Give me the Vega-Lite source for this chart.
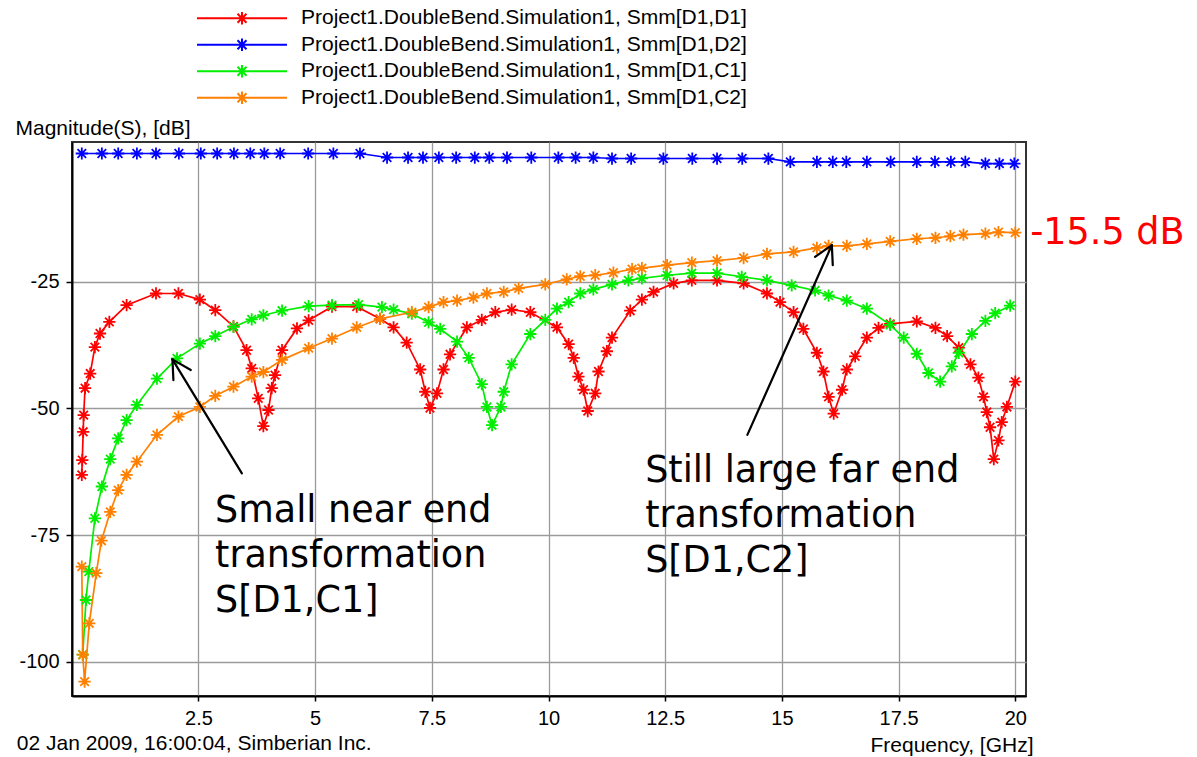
{
  "$schema": "https://vega.github.io/schema/vega-lite/v6.json",
  "width": 954,
  "height": 554,
  "autosize": {"type": "none"},
  "padding": {"left": 72, "top": 142, "right": 171, "bottom": 61},
  "background": "white",
  "config": {
    "view": {"stroke": "#333333", "strokeWidth": 2},
    "axis": {
      "labelFont": "Liberation Sans",
      "labelFontSize": 20,
      "labelColor": "black",
      "titleFont": "Liberation Sans",
      "titleFontSize": 21,
      "titleFontWeight": "normal",
      "titleColor": "black",
      "domainColor": "black",
      "domainWidth": 2,
      "tickColor": "black",
      "tickWidth": 1.5,
      "tickSize": 6,
      "labelPadding": 7,
      "grid": true,
      "gridColor": "#9a9a9a",
      "gridWidth": 1.3
    }
  },
  "datasets": {
    "curves": [
      {"s":"D1,D1","f":0.0,"db":-63.1},{"s":"D1,D1","f":0.01,"db":-60.2},{"s":"D1,D1","f":0.03,"db":-54.6},{"s":"D1,D1","f":0.04,"db":-51.3},{"s":"D1,D1","f":0.07,"db":-46.0},{"s":"D1,D1","f":0.18,"db":-43.1},{"s":"D1,D1","f":0.28,"db":-37.9},{"s":"D1,D1","f":0.39,"db":-35.2},{"s":"D1,D1","f":0.59,"db":-32.9},{"s":"D1,D1","f":0.96,"db":-29.6},{"s":"D1,D1","f":1.59,"db":-27.3},{"s":"D1,D1","f":2.07,"db":-27.3},{"s":"D1,D1","f":2.53,"db":-28.5},{"s":"D1,D1","f":2.86,"db":-30.6},{"s":"D1,D1","f":3.25,"db":-33.8},{"s":"D1,D1","f":3.53,"db":-38.5},{"s":"D1,D1","f":3.64,"db":-42.1},{"s":"D1,D1","f":3.78,"db":-48.0},{"s":"D1,D1","f":3.89,"db":-53.5},{"s":"D1,D1","f":4.0,"db":-50.3},{"s":"D1,D1","f":4.07,"db":-46.0},{"s":"D1,D1","f":4.14,"db":-43.4},{"s":"D1,D1","f":4.29,"db":-38.5},{"s":"D1,D1","f":4.61,"db":-34.2},{"s":"D1,D1","f":4.86,"db":-32.6},{"s":"D1,D1","f":5.36,"db":-29.9},{"s":"D1,D1","f":5.89,"db":-29.9},{"s":"D1,D1","f":6.39,"db":-32.3},{"s":"D1,D1","f":6.68,"db":-34.0},{"s":"D1,D1","f":6.96,"db":-37.0},{"s":"D1,D1","f":7.25,"db":-42.3},{"s":"D1,D1","f":7.36,"db":-46.7},{"s":"D1,D1","f":7.46,"db":-49.9},{"s":"D1,D1","f":7.61,"db":-47.0},{"s":"D1,D1","f":7.75,"db":-42.3},{"s":"D1,D1","f":7.89,"db":-39.3},{"s":"D1,D1","f":8.25,"db":-34.0},{"s":"D1,D1","f":8.57,"db":-32.5},{"s":"D1,D1","f":8.86,"db":-31.0},{"s":"D1,D1","f":9.21,"db":-30.5},{"s":"D1,D1","f":9.61,"db":-31.0},{"s":"D1,D1","f":10.18,"db":-34.0},{"s":"D1,D1","f":10.43,"db":-37.3},{"s":"D1,D1","f":10.54,"db":-40.0},{"s":"D1,D1","f":10.64,"db":-43.7},{"s":"D1,D1","f":10.75,"db":-46.3},{"s":"D1,D1","f":10.84,"db":-50.5},{"s":"D1,D1","f":11.0,"db":-47.0},{"s":"D1,D1","f":11.07,"db":-42.7},{"s":"D1,D1","f":11.25,"db":-38.7},{"s":"D1,D1","f":11.36,"db":-36.0},{"s":"D1,D1","f":11.75,"db":-30.7},{"s":"D1,D1","f":12.0,"db":-28.5},{"s":"D1,D1","f":12.25,"db":-27.0},{"s":"D1,D1","f":12.68,"db":-25.3},{"s":"D1,D1","f":13.07,"db":-24.7},{"s":"D1,D1","f":13.61,"db":-24.7},{"s":"D1,D1","f":14.18,"db":-25.3},{"s":"D1,D1","f":14.68,"db":-27.3},{"s":"D1,D1","f":14.96,"db":-29.0},{"s":"D1,D1","f":15.25,"db":-31.0},{"s":"D1,D1","f":15.46,"db":-34.3},{"s":"D1,D1","f":15.75,"db":-39.0},{"s":"D1,D1","f":15.89,"db":-42.7},{"s":"D1,D1","f":16.0,"db":-47.7},{"s":"D1,D1","f":16.11,"db":-51.0},{"s":"D1,D1","f":16.29,"db":-46.3},{"s":"D1,D1","f":16.39,"db":-42.3},{"s":"D1,D1","f":16.57,"db":-39.7},{"s":"D1,D1","f":16.82,"db":-36.0},{"s":"D1,D1","f":17.07,"db":-34.1},{"s":"D1,D1","f":17.32,"db":-33.3},{"s":"D1,D1","f":17.89,"db":-32.8},{"s":"D1,D1","f":18.29,"db":-34.1},{"s":"D1,D1","f":18.54,"db":-35.7},{"s":"D1,D1","f":18.79,"db":-38.0},{"s":"D1,D1","f":19.04,"db":-41.3},{"s":"D1,D1","f":19.21,"db":-43.9},{"s":"D1,D1","f":19.32,"db":-47.7},{"s":"D1,D1","f":19.39,"db":-50.7},{"s":"D1,D1","f":19.46,"db":-53.7},{"s":"D1,D1","f":19.54,"db":-60.0},{"s":"D1,D1","f":19.64,"db":-56.3},{"s":"D1,D1","f":19.71,"db":-52.7},{"s":"D1,D1","f":19.82,"db":-49.7},{"s":"D1,D1","f":20.0,"db":-44.7},

      {"s":"D1,D2","f":0.0,"db":0.33},{"s":"D1,D2","f":0.43,"db":0.33},{"s":"D1,D2","f":0.78,"db":0.33},{"s":"D1,D2","f":1.18,"db":0.33},{"s":"D1,D2","f":1.59,"db":0.33},{"s":"D1,D2","f":2.08,"db":0.33},{"s":"D1,D2","f":2.55,"db":0.33},{"s":"D1,D2","f":2.9,"db":0.33},{"s":"D1,D2","f":3.26,"db":0.33},{"s":"D1,D2","f":3.61,"db":0.33},{"s":"D1,D2","f":3.91,"db":0.33},{"s":"D1,D2","f":4.25,"db":0.33},{"s":"D1,D2","f":4.85,"db":0.33},{"s":"D1,D2","f":5.39,"db":0.33},{"s":"D1,D2","f":5.96,"db":0.33},{"s":"D1,D2","f":6.54,"db":-0.46},{"s":"D1,D2","f":6.99,"db":-0.46},{"s":"D1,D2","f":7.31,"db":-0.46},{"s":"D1,D2","f":7.65,"db":-0.46},{"s":"D1,D2","f":8.02,"db":-0.46},{"s":"D1,D2","f":8.42,"db":-0.46},{"s":"D1,D2","f":8.73,"db":-0.46},{"s":"D1,D2","f":9.11,"db":-0.46},{"s":"D1,D2","f":9.63,"db":-0.46},{"s":"D1,D2","f":10.21,"db":-0.46},{"s":"D1,D2","f":10.58,"db":-0.46},{"s":"D1,D2","f":10.96,"db":-0.46},{"s":"D1,D2","f":11.36,"db":-0.66},{"s":"D1,D2","f":11.77,"db":-0.66},{"s":"D1,D2","f":12.46,"db":-0.66},{"s":"D1,D2","f":13.08,"db":-0.66},{"s":"D1,D2","f":13.61,"db":-0.66},{"s":"D1,D2","f":14.15,"db":-0.66},{"s":"D1,D2","f":14.71,"db":-0.66},{"s":"D1,D2","f":15.18,"db":-1.33},{"s":"D1,D2","f":15.75,"db":-1.33},{"s":"D1,D2","f":16.09,"db":-1.33},{"s":"D1,D2","f":16.38,"db":-1.33},{"s":"D1,D2","f":16.82,"db":-1.33},{"s":"D1,D2","f":17.33,"db":-1.33},{"s":"D1,D2","f":17.89,"db":-1.33},{"s":"D1,D2","f":18.28,"db":-1.33},{"s":"D1,D2","f":18.62,"db":-1.33},{"s":"D1,D2","f":18.93,"db":-1.33},{"s":"D1,D2","f":19.36,"db":-1.65},{"s":"D1,D2","f":19.66,"db":-1.65},{"s":"D1,D2","f":19.98,"db":-1.65},

      {"s":"D1,C1","f":0.02,"db":-98.6},{"s":"D1,C1","f":0.09,"db":-87.8},{"s":"D1,C1","f":0.15,"db":-82.2},{"s":"D1,C1","f":0.28,"db":-71.7},{"s":"D1,C1","f":0.43,"db":-65.4},{"s":"D1,C1","f":0.61,"db":-60.0},{"s":"D1,C1","f":0.78,"db":-55.9},{"s":"D1,C1","f":0.96,"db":-52.3},{"s":"D1,C1","f":1.18,"db":-49.3},{"s":"D1,C1","f":1.61,"db":-44.1},{"s":"D1,C1","f":2.04,"db":-40.1},{"s":"D1,C1","f":2.53,"db":-37.2},{"s":"D1,C1","f":2.86,"db":-35.7},{"s":"D1,C1","f":3.25,"db":-33.9},{"s":"D1,C1","f":3.64,"db":-32.4},{"s":"D1,C1","f":3.89,"db":-31.6},{"s":"D1,C1","f":4.29,"db":-30.7},{"s":"D1,C1","f":4.86,"db":-29.8},{"s":"D1,C1","f":5.36,"db":-29.6},{"s":"D1,C1","f":5.93,"db":-29.5},{"s":"D1,C1","f":6.43,"db":-30.0},{"s":"D1,C1","f":6.68,"db":-30.5},{"s":"D1,C1","f":7.07,"db":-31.3},{"s":"D1,C1","f":7.43,"db":-33.0},{"s":"D1,C1","f":7.68,"db":-34.3},{"s":"D1,C1","f":8.04,"db":-36.8},{"s":"D1,C1","f":8.29,"db":-40.0},{"s":"D1,C1","f":8.57,"db":-45.2},{"s":"D1,C1","f":8.68,"db":-49.7},{"s":"D1,C1","f":8.79,"db":-53.3},{"s":"D1,C1","f":8.98,"db":-49.7},{"s":"D1,C1","f":9.04,"db":-46.7},{"s":"D1,C1","f":9.21,"db":-41.3},{"s":"D1,C1","f":9.61,"db":-35.3},{"s":"D1,C1","f":9.93,"db":-32.5},{"s":"D1,C1","f":10.18,"db":-30.3},{"s":"D1,C1","f":10.43,"db":-29.0},{"s":"D1,C1","f":10.68,"db":-27.3},{"s":"D1,C1","f":10.96,"db":-26.5},{"s":"D1,C1","f":11.36,"db":-25.5},{"s":"D1,C1","f":11.71,"db":-24.7},{"s":"D1,C1","f":12.0,"db":-24.3},{"s":"D1,C1","f":12.54,"db":-23.7},{"s":"D1,C1","f":13.07,"db":-23.3},{"s":"D1,C1","f":13.61,"db":-23.3},{"s":"D1,C1","f":14.14,"db":-24.0},{"s":"D1,C1","f":14.68,"db":-24.7},{"s":"D1,C1","f":15.21,"db":-25.7},{"s":"D1,C1","f":15.71,"db":-26.7},{"s":"D1,C1","f":16.0,"db":-27.7},{"s":"D1,C1","f":16.39,"db":-28.7},{"s":"D1,C1","f":16.82,"db":-30.3},{"s":"D1,C1","f":17.32,"db":-33.5},{"s":"D1,C1","f":17.61,"db":-36.0},{"s":"D1,C1","f":17.89,"db":-39.2},{"s":"D1,C1","f":18.14,"db":-43.0},{"s":"D1,C1","f":18.39,"db":-44.7},{"s":"D1,C1","f":18.64,"db":-41.7},{"s":"D1,C1","f":18.79,"db":-39.0},{"s":"D1,C1","f":19.07,"db":-35.3},{"s":"D1,C1","f":19.36,"db":-32.7},{"s":"D1,C1","f":19.57,"db":-31.2},{"s":"D1,C1","f":19.89,"db":-29.7},

      {"s":"D1,C2","f":0.0,"db":-81.2},{"s":"D1,C2","f":0.02,"db":-98.6},{"s":"D1,C2","f":0.06,"db":-103.9},{"s":"D1,C2","f":0.16,"db":-92.4},{"s":"D1,C2","f":0.31,"db":-82.5},{"s":"D1,C2","f":0.42,"db":-76.1},{"s":"D1,C2","f":0.61,"db":-70.4},{"s":"D1,C2","f":0.78,"db":-66.1},{"s":"D1,C2","f":0.96,"db":-63.1},{"s":"D1,C2","f":1.18,"db":-60.5},{"s":"D1,C2","f":1.61,"db":-55.2},{"s":"D1,C2","f":2.07,"db":-51.6},{"s":"D1,C2","f":2.53,"db":-49.7},{"s":"D1,C2","f":2.86,"db":-47.5},{"s":"D1,C2","f":3.25,"db":-45.7},{"s":"D1,C2","f":3.64,"db":-43.7},{"s":"D1,C2","f":3.89,"db":-42.8},{"s":"D1,C2","f":4.29,"db":-40.4},{"s":"D1,C2","f":4.86,"db":-38.1},{"s":"D1,C2","f":5.36,"db":-36.2},{"s":"D1,C2","f":5.89,"db":-34.0},{"s":"D1,C2","f":6.39,"db":-32.3},{"s":"D1,C2","f":7.07,"db":-31.0},{"s":"D1,C2","f":7.43,"db":-30.0},{"s":"D1,C2","f":7.75,"db":-29.0},{"s":"D1,C2","f":8.04,"db":-28.7},{"s":"D1,C2","f":8.39,"db":-28.1},{"s":"D1,C2","f":8.68,"db":-27.3},{"s":"D1,C2","f":9.04,"db":-27.0},{"s":"D1,C2","f":9.36,"db":-26.3},{"s":"D1,C2","f":9.93,"db":-25.5},{"s":"D1,C2","f":10.39,"db":-24.5},{"s":"D1,C2","f":10.68,"db":-23.9},{"s":"D1,C2","f":11.0,"db":-23.7},{"s":"D1,C2","f":11.39,"db":-23.2},{"s":"D1,C2","f":11.79,"db":-22.5},{"s":"D1,C2","f":12.0,"db":-22.3},{"s":"D1,C2","f":12.54,"db":-21.7},{"s":"D1,C2","f":13.07,"db":-21.2},{"s":"D1,C2","f":13.61,"db":-20.8},{"s":"D1,C2","f":14.18,"db":-20.3},{"s":"D1,C2","f":14.68,"db":-19.5},{"s":"D1,C2","f":15.25,"db":-19.1},{"s":"D1,C2","f":15.75,"db":-18.3},{"s":"D1,C2","f":16.0,"db":-17.9},{"s":"D1,C2","f":16.39,"db":-17.9},{"s":"D1,C2","f":16.82,"db":-17.5},{"s":"D1,C2","f":17.32,"db":-17.0},{"s":"D1,C2","f":17.89,"db":-16.5},{"s":"D1,C2","f":18.29,"db":-16.3},{"s":"D1,C2","f":18.61,"db":-16.0},{"s":"D1,C2","f":18.89,"db":-15.7},{"s":"D1,C2","f":19.36,"db":-15.5},{"s":"D1,C2","f":19.64,"db":-15.2},{"s":"D1,C2","f":20.0,"db":-15.3}
    ]
  },
  "layer": [
    {
      "data": {"name": "curves"},
      "mark": {"type": "line", "strokeWidth": 1.7},
      "encoding": {
        "x": {
          "field": "f", "type": "quantitative",
          "scale": {"domain": [-0.21, 20.23], "nice": false, "zero": false},
          "axis": {
            "values": [2.5, 5, 7.5, 10, 12.5, 15, 17.5, 20],
            "labelExpr": "'' + datum.value",
            "title": "Frequency, [GHz]",
            "titleAlign": "right",
            "titleAnchor": null,
            "titleX": 961,
            "titleY": 55,
            "titleBaseline": "alphabetic",
            "tickSize": 5
          }
        },
        "y": {
          "field": "db", "type": "quantitative",
          "scale": {"domain": [-106.75, 2.6], "nice": false, "zero": false},
          "axis": {
            "values": [-25, -50, -75, -100],
            "labelExpr": "'' + datum.value",
            "title": "Magnitude(S), [dB]",
            "titleAngle": 0,
            "titleAlign": "left",
            "titleAnchor": null,
            "titleX": -57,
            "titleY": -7.5,
            "titleBaseline": "alphabetic"
          }
        },
        "color": {
          "field": "s", "type": "nominal",
          "scale": {"domain": ["D1,D1", "D1,D2", "D1,C1", "D1,C2"], "range": ["#ff0000", "#0000ff", "#00ee00", "#ff8000"]},
          "legend": {
            "orient": "none",
            "legendX": 124,
            "legendY": -136.7,
            "title": null,
            "padding": 0,
            "symbolType": "M-1,0H1M0,-0.14V0.14M-0.14,0H0.14M-0.1,-0.1L0.1,0.1M-0.1,0.1L0.1,-0.1",
            "symbolSize": 8100,
            "symbolStrokeWidth": 2,
            "labelFont": "Liberation Sans",
            "labelFontSize": 21,
            "labelColor": "black",
            "labelOffset": 13,
            "labelLimit": 0,
            "clipHeight": 26,
            "rowPadding": 0.5,
            "labelExpr": "'Project1.DoubleBend.Simulation1, Smm[' + datum.label + ']'"
          }
        },
        "detail": {"field": "s"}
      }
    },
    {
      "data": {"name": "curves"},
      "mark": {"type": "point", "filled": false, "strokeWidth": 1.8, "size": 150, "opacity": 1, "shape": "M0,-1V1M-1,0H1M-0.7,-0.7L0.7,0.7M-0.7,0.7L0.7,-0.7"},
      "encoding": {
        "x": {"field": "f", "type": "quantitative"},
        "y": {"field": "db", "type": "quantitative"},
        "color": {"field": "s", "type": "nominal"}
      }
    },
    {
      "data": {"values": [
        {"x1": 3.43, "y1": -62.8, "x2": 1.942, "y2": -40.3},
        {"x1": 1.942, "y1": -40.3, "x2": 1.963, "y2": -44.4},
        {"x1": 1.942, "y1": -40.3, "x2": 2.335, "y2": -42.4},
        {"x1": 14.26, "y1": -55.2, "x2": 16.07, "y2": -17.76},
        {"x1": 16.07, "y1": -17.76, "x2": 15.71, "y2": -20.07},
        {"x1": 16.07, "y1": -17.76, "x2": 16.09, "y2": -21.71}
      ]},
      "mark": {"type": "rule", "color": "black", "strokeWidth": 2.2, "strokeCap": "round"},
      "encoding": {
        "x": {"field": "x1", "type": "quantitative"},
        "y": {"field": "y1", "type": "quantitative"},
        "x2": {"field": "x2"},
        "y2": {"field": "y2"}
      }
    },
    {
      "data": {"values": [
        {"x": 2.856, "y": -72.34, "t": "Small near end\ntransformation\nS[D1,C1]"},
        {"x": 12.07, "y": -64.45, "t": "Still large far end\ntransformation\nS[D1,C2]"}
      ]},
      "mark": {"type": "text", "align": "left", "baseline": "alphabetic", "font": "DejaVu Sans", "fontSize": 36.5, "lineHeight": 45, "lineBreak": "\n", "color": "black"},
      "encoding": {
        "x": {"field": "x", "type": "quantitative"},
        "y": {"field": "y", "type": "quantitative"},
        "text": {"field": "t"}
      }
    },
    {
      "data": {"values": [{"x": 20.32, "y": -17.62, "t": "-15.5 dB"}]},
      "mark": {"type": "text", "align": "left", "baseline": "alphabetic", "font": "DejaVu Sans", "fontSize": 36.5, "color": "#ff0000"},
      "encoding": {
        "x": {"field": "x", "type": "quantitative"},
        "y": {"field": "y", "type": "quantitative"},
        "text": {"field": "t"}
      }
    },
    {
      "data": {"values": [{"x": -1.393, "y": -117.5, "t": "02 Jan 2009, 16:00:04, Simberian Inc."}]},
      "mark": {"type": "text", "align": "left", "baseline": "alphabetic", "font": "Liberation Sans", "fontSize": 21, "color": "black"},
      "encoding": {
        "x": {"field": "x", "type": "quantitative"},
        "y": {"field": "y", "type": "quantitative"},
        "text": {"field": "t"}
      }
    }
  ]
}
